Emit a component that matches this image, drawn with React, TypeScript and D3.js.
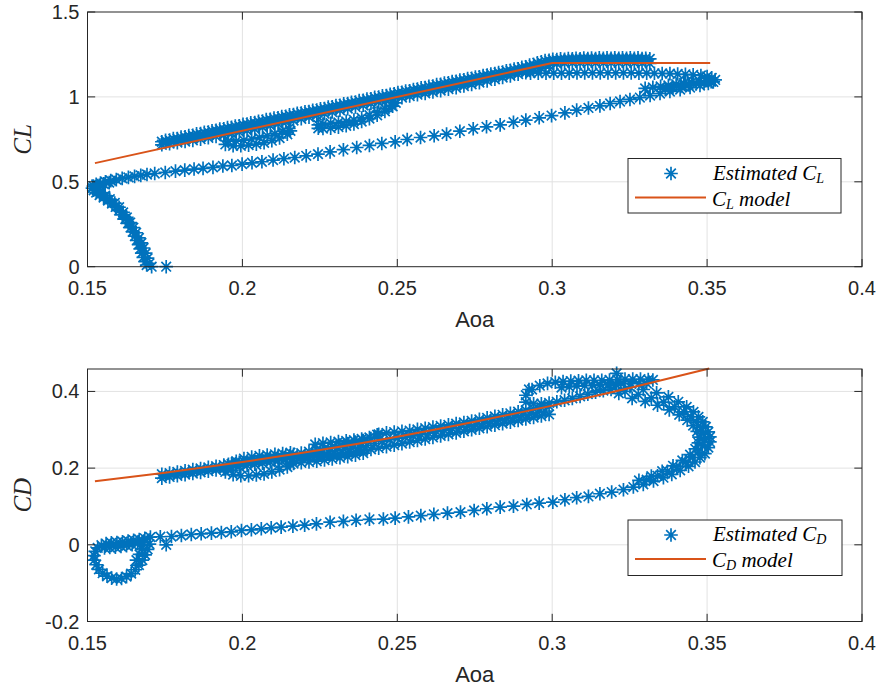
import React from "react";
import * as d3 from "d3";

type P = [number, number];

// ---------- axis ticks ----------
const AOA_TICKS = [0.15, 0.2, 0.25, 0.3, 0.35, 0.4];
const AOA_TICK_LABELS = ["0.15", "0.2", "0.25", "0.3", "0.35", "0.4"];
const CL_TICKS = [0, 0.5, 1, 1.5];
const CL_TICK_LABELS = ["0", "0.5", "1", "1.5"];
const CD_TICKS = [-0.2, 0, 0.2, 0.4];
const CD_TICK_LABELS = ["-0.2", "0", "0.2", "0.4"];

// ---------- CL data (aoa, CL) ----------
const clStart: P[] = [
  [0.1754, 0.0], [0.1707, 0.0], [0.1691, 0.01], [0.1686, 0.03], [0.168, 0.055], [0.1675, 0.08], [0.167, 0.105],
  [0.1665, 0.13], [0.1659, 0.155], [0.1653, 0.18], [0.1646, 0.205], [0.1639, 0.23], [0.1631, 0.255], [0.1622, 0.28],
  [0.1612, 0.305], [0.1602, 0.33], [0.1591, 0.352], [0.1579, 0.372], [0.1566, 0.39], [0.1552, 0.407], [0.1539, 0.422],
  [0.1528, 0.436], [0.152, 0.45], [0.1516, 0.463], [0.1519, 0.475], [0.1528, 0.485], [0.1542, 0.493], [0.1558, 0.5],
  [0.1575, 0.507], [0.1593, 0.513], [0.1612, 0.52], [0.1632, 0.526], [0.1652, 0.532], [0.1672, 0.538], [0.1692, 0.543],
];
const clStart2: P[] = [
  [0.17, 0.02], [0.1694, 0.05], [0.1688, 0.08], [0.1681, 0.11], [0.1674, 0.14], [0.1666, 0.17], [0.1657, 0.2],
  [0.1648, 0.23], [0.1638, 0.26], [0.1627, 0.29], [0.1615, 0.32], [0.1602, 0.35], [0.1588, 0.375], [0.1572, 0.398],
  [0.1557, 0.418], [0.1543, 0.436], [0.1533, 0.452], [0.153, 0.468], [0.1538, 0.48], [0.1552, 0.488], [0.157, 0.495],
];
const clTransient: P[] = [
  [0.1717, 0.549], [0.1751, 0.555], [0.1784, 0.563], [0.1814, 0.569], [0.1844, 0.575], [0.1873, 0.579], [0.1905, 0.585],
  [0.1937, 0.593], [0.1966, 0.596], [0.1999, 0.604], [0.2031, 0.612], [0.2063, 0.618], [0.2099, 0.628], [0.2134, 0.636],
  [0.2169, 0.643], [0.2206, 0.653], [0.2244, 0.663], [0.2283, 0.676], [0.2326, 0.689], [0.2369, 0.702], [0.241, 0.714],
  [0.245, 0.726], [0.2493, 0.735], [0.2532, 0.749], [0.2575, 0.761], [0.2619, 0.771], [0.2659, 0.781], [0.2702, 0.798],
  [0.2745, 0.812], [0.2788, 0.824], [0.2832, 0.835], [0.2875, 0.851], [0.2915, 0.863], [0.2958, 0.877], [0.2998, 0.89],
  [0.3041, 0.906], [0.3079, 0.922], [0.3117, 0.935], [0.3154, 0.947], [0.3187, 0.961], [0.3219, 0.973], [0.3251, 0.985],
  [0.3283, 0.996], [0.3316, 1.008], [0.3348, 1.02], [0.338, 1.032], [0.3413, 1.043], [0.3445, 1.055], [0.3477, 1.067],
  [0.3504, 1.079], [0.352, 1.088],
];
const clReturn: P[] = [
  [0.3526, 1.1], [0.3515, 1.112], [0.35, 1.12], [0.348, 1.126], [0.3455, 1.13], [0.343, 1.133], [0.3405, 1.135],
  [0.338, 1.137], [0.3355, 1.138], [0.333, 1.139], [0.3305, 1.14], [0.328, 1.14], [0.3255, 1.141], [0.323, 1.141],
  [0.3205, 1.141], [0.318, 1.141], [0.3155, 1.141], [0.313, 1.141], [0.3105, 1.141], [0.308, 1.141], [0.3055, 1.14],
  [0.303, 1.14], [0.3005, 1.14], [0.298, 1.14], [0.2955, 1.14], [0.293, 1.14],
];
const clCrescent: P[] = [
  [0.33, 1.05], [0.3325, 1.056], [0.335, 1.062], [0.3375, 1.068], [0.34, 1.075], [0.3425, 1.081], [0.345, 1.087],
  [0.3475, 1.092], [0.35, 1.095], [0.3365, 1.045], [0.339, 1.054], [0.3415, 1.062], [0.344, 1.07], [0.3465, 1.077],
  [0.349, 1.083], [0.3513, 1.09],
];
const clBlob1Lower: P[] = [
  [0.1945, 0.72], [0.197, 0.712], [0.1995, 0.712], [0.202, 0.716], [0.2045, 0.722], [0.207, 0.73], [0.2095, 0.742],
  [0.212, 0.758], [0.2145, 0.78], [0.2155, 0.8],
];
const clBlob1Upper: P[] = [
  [0.1955, 0.74], [0.198, 0.74], [0.2005, 0.745], [0.203, 0.752], [0.2055, 0.76], [0.208, 0.77], [0.2105, 0.782],
  [0.213, 0.797], [0.215, 0.815],
];
const clBlob2Lower: P[] = [
  [0.2245, 0.815], [0.226, 0.814], [0.2285, 0.816], [0.231, 0.822], [0.2335, 0.83], [0.236, 0.84], [0.2385, 0.855],
  [0.241, 0.872], [0.2435, 0.892], [0.246, 0.915], [0.2485, 0.945], [0.2495, 0.965],
];
const clBlob2Upper: P[] = [
  [0.2245, 0.835], [0.226, 0.84], [0.2285, 0.845], [0.231, 0.85], [0.2335, 0.856], [0.236, 0.864], [0.2385, 0.876],
  [0.241, 0.892], [0.2435, 0.91], [0.246, 0.93], [0.248, 0.95],
];
const bandAoa = [
  0.174, 0.1765, 0.179, 0.1815, 0.184, 0.1865, 0.189, 0.1915, 0.194, 0.1965,
  0.199, 0.2015, 0.204, 0.2065, 0.209, 0.2115, 0.214, 0.2165, 0.219, 0.2215,
  0.224, 0.2265, 0.229, 0.2315, 0.234, 0.2365, 0.239, 0.2415, 0.244, 0.2465,
  0.249, 0.2515, 0.254, 0.2565, 0.259, 0.2615, 0.264, 0.2665, 0.269, 0.2715,
  0.274, 0.2765, 0.279, 0.2815, 0.284, 0.2865, 0.289, 0.2915, 0.294, 0.2965,
  0.299, 0.3015, 0.304, 0.3065, 0.309, 0.3115, 0.314, 0.3165, 0.319, 0.3215,
  0.324, 0.3265, 0.329, 0.3315,
];
const bandAoaMid = [
  0.1752, 0.1777, 0.1802, 0.1827, 0.1852, 0.1877, 0.1902, 0.1927, 0.1952, 0.1977,
  0.2002, 0.2027, 0.2052, 0.2077, 0.2102, 0.2127, 0.2152, 0.2177, 0.2202, 0.2227,
  0.2252, 0.2277, 0.2302, 0.2327, 0.2352, 0.2377, 0.2402, 0.2427, 0.2452, 0.2477,
  0.2502, 0.2527, 0.2552, 0.2577, 0.2602, 0.2627, 0.2652, 0.2677, 0.2702, 0.2727,
  0.2752, 0.2777, 0.2802, 0.2827, 0.2852, 0.2877, 0.2902, 0.2927, 0.2952, 0.2977,
  0.3002, 0.3027, 0.3052, 0.3077, 0.3102, 0.3127, 0.3152, 0.3177, 0.3202, 0.3227,
  0.3252, 0.3277, 0.3302,
];
const clBandUpper = [
  0.736, 0.746, 0.755, 0.765, 0.774, 0.784, 0.793, 0.803, 0.812, 0.821,
  0.83, 0.84, 0.849, 0.858, 0.868, 0.877, 0.886, 0.896, 0.905, 0.914,
  0.923, 0.932, 0.942, 0.951, 0.961, 0.97, 0.98, 0.989, 0.999, 1.008,
  1.018, 1.027, 1.036, 1.046, 1.055, 1.064, 1.074, 1.083, 1.092, 1.101,
  1.11, 1.119, 1.128, 1.137, 1.146, 1.156, 1.166, 1.177, 1.19, 1.206,
  1.215, 1.22, 1.222, 1.224, 1.225, 1.226, 1.226, 1.227, 1.227, 1.228,
  1.228, 1.227, 1.226, 1.224,
];
const clBandTop2 = [
  0.744, 0.754, 0.763, 0.772, 0.782, 0.791, 0.801, 0.81, 0.819, 0.828,
  0.838, 0.847, 0.856, 0.866, 0.875, 0.884, 0.894, 0.903, 0.912, 0.921,
  0.93, 0.94, 0.949, 0.959, 0.968, 0.978, 0.987, 0.997, 1.006, 1.016,
  1.025, 1.035, 1.044, 1.053, 1.063, 1.072, 1.081, 1.09, 1.099, 1.108,
  1.117, 1.126, 1.135, 1.144, 1.154, 1.164, 1.175, 1.187, 1.201, 1.214,
  1.221, 1.224, 1.226, 1.228, 1.229, 1.229, 1.23, 1.23, 1.231, 1.231,
  1.231, 1.23, 1.228,
];
const clBandMid = [
  0.73, 0.737, 0.746, 0.755, 0.764, 0.773, 0.782, 0.791, 0.8, 0.809,
  0.818, 0.827, 0.836, 0.845, 0.855, 0.865, 0.875, 0.885, 0.895, 0.905,
  0.914, 0.924, 0.934, 0.943, 0.953, 0.962, 0.972, 0.981, 0.99, 0.998,
  1.006, 1.014, 1.023, 1.032, 1.041, 1.05, 1.058, 1.067, 1.076, 1.085,
  1.094, 1.104, 1.114, 1.124, 1.134, 1.143, 1.153, 1.164, 1.177, 1.193,
  1.206, 1.212, 1.213, 1.214, 1.214, 1.215, 1.215, 1.215, 1.216, 1.216,
  1.216, 1.215, 1.213,
];
const clBandLower = [
  0.718, 0.725, 0.731, 0.737, 0.744, 0.751, 0.759, 0.767, 0.775, 0.784,
  0.793, 0.802, 0.811, 0.821, 0.831, 0.841, 0.851, 0.861, 0.871, 0.881,
  0.891, 0.901, 0.911, 0.921, 0.931, 0.941, 0.951, 0.961, 0.971, 0.98,
  0.988, 0.996, 1.005, 1.013, 1.021, 1.029, 1.037, 1.046, 1.054, 1.064,
  1.074, 1.084, 1.094, 1.104, 1.114, 1.124, 1.134, 1.143, 1.155, 1.17,
  1.185, 1.195, 1.199, 1.2, 1.2, 1.2, 1.2, 1.2, 1.2, 1.2,
  1.2, 1.2, 1.199, 1.197,
];
const clModelAoa = [0.1524, 0.3, 0.351];
const clModelVal = [0.61, 1.2, 1.2];

// ---------- CD data (aoa, CD) ----------
const cdStart: P[] = [[0.1754, 0.0]];
const cdRing: P[] = [
  [0.17, 0.002], [0.1694, -0.012], [0.1686, -0.026], [0.1677, -0.04], [0.1666, -0.053], [0.1654, -0.065],
  [0.1641, -0.075], [0.1626, -0.083], [0.161, -0.088], [0.1594, -0.089], [0.1578, -0.087], [0.1563, -0.082],
  [0.1549, -0.074], [0.1537, -0.064], [0.1528, -0.052], [0.1522, -0.04], [0.1521, -0.028], [0.1525, -0.017],
  [0.1533, -0.008], [0.1545, -0.001], [0.156, 0.003], [0.1577, 0.005], [0.1595, 0.006], [0.1613, 0.008],
  [0.1631, 0.01], [0.1649, 0.012], [0.1667, 0.014], [0.1685, 0.017], [0.1703, 0.02],
];
const cdRingTop: P[] = [
  [0.1555, -0.008], [0.1572, -0.007], [0.159, -0.006], [0.1608, -0.004], [0.1626, -0.002], [0.1644, 0.0],
  [0.1662, 0.003], [0.168, 0.007], [0.1675, -0.01], [0.1668, -0.025], [0.1658, -0.04],
];
const cdTransient: P[] = [
  [0.1735, 0.021], [0.1771, 0.0217], [0.1803, 0.0243], [0.1835, 0.0269], [0.1867, 0.0287], [0.19, 0.0304],
  [0.1932, 0.0321], [0.1964, 0.0339], [0.1997, 0.0374], [0.2029, 0.0391], [0.2061, 0.0417], [0.2093, 0.0443],
  [0.2125, 0.0461], [0.2163, 0.0487], [0.2201, 0.0513], [0.2239, 0.0545], [0.2283, 0.059], [0.2326, 0.0612],
  [0.2367, 0.064], [0.241, 0.0665], [0.2455, 0.0672], [0.2493, 0.0695], [0.2536, 0.0728], [0.2576, 0.0762],
  [0.2618, 0.0795], [0.2662, 0.0827], [0.2704, 0.0853], [0.2748, 0.0896], [0.2789, 0.094], [0.2832, 0.0984],
  [0.2875, 0.101], [0.2918, 0.1053], [0.2958, 0.1088], [0.3002, 0.1114], [0.3041, 0.1175], [0.3079, 0.1228],
  [0.3117, 0.1262], [0.3154, 0.1332], [0.3192, 0.1376], [0.323, 0.1437], [0.3262, 0.1506], [0.3294, 0.1576],
  [0.3327, 0.1663], [0.3359, 0.175], [0.3386, 0.1838], [0.3413, 0.1942], [0.344, 0.2047], [0.3461, 0.216],
  [0.3477, 0.2273], [0.3493, 0.2378], [0.3504, 0.2535], [0.3509, 0.2683], [0.3509, 0.2814], [0.3504, 0.2944],
  [0.3496, 0.3075], [0.3486, 0.3206], [0.3472, 0.3336], [0.3456, 0.3467], [0.3434, 0.3598], [0.3407, 0.3729],
  [0.3375, 0.3859], [0.3337, 0.3964], [0.3294, 0.4051], [0.3251, 0.4121], [0.3208, 0.4164],
];
const cdArcInner: P[] = [
  [0.328, 0.168], [0.332, 0.179], [0.3355, 0.192], [0.339, 0.206], [0.342, 0.22], [0.3445, 0.235], [0.3462, 0.25],
  [0.3472, 0.266], [0.3474, 0.281], [0.3468, 0.296], [0.3455, 0.311], [0.3436, 0.325], [0.341, 0.339], [0.3378, 0.352],
  [0.334, 0.364], [0.33, 0.374], [0.3258, 0.382],
];
const cdArcMid: P[] = [
  [0.3305, 0.17], [0.334, 0.18], [0.3372, 0.192], [0.3402, 0.203], [0.343, 0.215], [0.3453, 0.228], [0.3472, 0.242],
  [0.3485, 0.258], [0.349, 0.274], [0.3488, 0.29], [0.348, 0.306], [0.3467, 0.32], [0.3448, 0.334], [0.3425, 0.347],
  [0.3395, 0.36], [0.336, 0.372], [0.332, 0.383], [0.3278, 0.392], [0.3235, 0.4],
];
const cdLensUpper: P[] = [
  [0.2935, 0.405], [0.296, 0.415], [0.2985, 0.421], [0.301, 0.424], [0.3035, 0.426], [0.306, 0.427], [0.3085, 0.428],
  [0.311, 0.429], [0.3135, 0.429], [0.316, 0.429], [0.3185, 0.43], [0.321, 0.431], [0.3235, 0.432], [0.326, 0.432],
  [0.3285, 0.432], [0.331, 0.431], [0.3325, 0.43],
];
const cdLensSecond: P[] = [
  [0.303, 0.41], [0.3055, 0.412], [0.308, 0.414], [0.3105, 0.415], [0.313, 0.416], [0.3155, 0.417], [0.318, 0.418],
  [0.3205, 0.419], [0.323, 0.42], [0.3255, 0.42], [0.328, 0.421], [0.3305, 0.421],
];
const cdLensLower: P[] = [
  [0.2925, 0.405], [0.2915, 0.39], [0.2915, 0.372], [0.294, 0.368], [0.2965, 0.368], [0.299, 0.37], [0.3015, 0.373],
  [0.304, 0.377], [0.3065, 0.382], [0.309, 0.387], [0.3115, 0.393], [0.314, 0.398], [0.3165, 0.402], [0.319, 0.405],
];
const cdSpikes: P[] = [[0.3208, 0.447], [0.3215, 0.395]];
const cdBlob1Lower: P[] = [
  [0.1945, 0.19], [0.197, 0.183], [0.1995, 0.18], [0.202, 0.18], [0.2045, 0.182], [0.207, 0.185], [0.2095, 0.19],
  [0.212, 0.196], [0.2145, 0.203], [0.2155, 0.21],
];
const cdBlob1Upper: P[] = [
  [0.1955, 0.21], [0.198, 0.218], [0.2005, 0.225], [0.203, 0.229], [0.2055, 0.232], [0.208, 0.234], [0.2105, 0.236],
  [0.213, 0.238], [0.2155, 0.24],
];
const cdBlob2Lower: P[] = [
  [0.2165, 0.212], [0.219, 0.214], [0.2215, 0.216], [0.224, 0.218], [0.2265, 0.221], [0.229, 0.224], [0.2315, 0.227],
  [0.234, 0.23], [0.2365, 0.234], [0.239, 0.239],
];
const cdBlob2Upper: P[] = [
  [0.2235, 0.262], [0.226, 0.265], [0.2285, 0.267], [0.231, 0.269], [0.2335, 0.271], [0.236, 0.273], [0.2385, 0.276],
  [0.241, 0.28], [0.2435, 0.287],
];
const cdBandUpper = [
  0.184, 0.187, 0.19, 0.193, 0.196, 0.199, 0.202, 0.205, 0.208, 0.211,
  0.215, 0.218, 0.221, 0.224, 0.227, 0.23, 0.233, 0.236, 0.239, 0.243,
  0.247, 0.252, 0.256, 0.26, 0.264, 0.268, 0.272, 0.277, 0.288, 0.292,
  0.294, 0.296, 0.298, 0.301, 0.304, 0.307, 0.31, 0.313, 0.316, 0.319,
  0.323, 0.327, 0.331, 0.335, 0.339, 0.343, 0.347, 0.351, 0.355, 0.359,
  0.362,
];
const cdBandMid = [
  0.18, 0.183, 0.186, 0.189, 0.192, 0.195, 0.198, 0.201, 0.204, 0.207,
  0.21, 0.213, 0.216, 0.219, 0.222, 0.225, 0.228, 0.23, 0.233, 0.236,
  0.239, 0.242, 0.246, 0.249, 0.252, 0.255, 0.259, 0.264, 0.27, 0.274,
  0.278, 0.281, 0.284, 0.287, 0.291, 0.295, 0.299, 0.303, 0.306, 0.309,
  0.313, 0.317, 0.321, 0.325, 0.329, 0.333, 0.337, 0.341, 0.345, 0.349,
];
const cdBandLower = [
  0.174, 0.177, 0.18, 0.183, 0.186, 0.189, 0.192, 0.195, 0.198, 0.201,
  0.204, 0.207, 0.21, 0.213, 0.216, 0.219, 0.222, 0.224, 0.226, 0.228,
  0.23, 0.232, 0.234, 0.237, 0.24, 0.243, 0.246, 0.249, 0.252, 0.256,
  0.26, 0.264, 0.268, 0.272, 0.276, 0.28, 0.284, 0.288, 0.292, 0.296,
  0.3, 0.304, 0.308, 0.312, 0.316, 0.32, 0.324, 0.328, 0.332, 0.336,
  0.34,
];
const cdModelAoa = [0.1524, 0.175, 0.2, 0.225, 0.25, 0.275, 0.3, 0.325, 0.3507];
const cdModelVal = [0.166, 0.188, 0.216, 0.247, 0.282, 0.321, 0.363, 0.409, 0.46];

// ---------- styling ----------
const BLUE = "#0072BD";
const RED = "#D95319";
const AX = "#262626";
const GRID = "#e2e2e2";
const SANS = "'Liberation Sans', Arial, Helvetica, sans-serif";
const SERIF = "'Liberation Serif', 'Times New Roman', serif";
const W = 877;
const H = 687;
const XL = 87.5;
const XR = 862;
const TICK = 7.7;
const MR = 6.8;
const MW = 1.7;

const zip = (xs: number[], ys: number[]): P[] => ys.map((v, i) => [xs[i], v]);

function starPath(pts: P[], x: (v: number) => number, y: (v: number) => number, r = MR): string {
  const d = r * 0.7071;
  return pts
    .map(([a, v]) => {
      const cx = x(a);
      const cy = y(v);
      return `M${cx - r},${cy}h${2 * r}M${cx},${cy - r}v${2 * r}M${cx - d},${cy - d}l${2 * d},${2 * d}M${cx - d},${cy + d}l${2 * d},${-2 * d}`;
    })
    .join("");
}

type PanelProps = {
  yTop: number;
  yBot: number;
  yDomain: [number, number];
  yTicks: number[];
  yTickLabels: string[];
  series: P[][];
  model: P[];
  curved: boolean;
  sub: string;
  legend: { x: number; y: number; w: number; h: number };
};

function Panel(props: PanelProps) {
  const { yTop, yBot, yDomain, yTicks, yTickLabels, series, model, curved, sub, legend } = props;
  const x = d3.scaleLinear().domain([0.15, 0.4]).range([XL, XR]);
  const y = d3.scaleLinear().domain(yDomain).range([yBot, yTop]);
  const stars = series.map((s) => starPath(s, x, y)).join("");
  const line = d3
    .line<P>()
    .x((d) => x(d[0]))
    .y((d) => y(d[1]))
    .curve(curved ? d3.curveMonotoneX : d3.curveLinear);
  const lx = legend.x;
  const ly = legend.y;
  const row1 = ly + 17;
  const row2 = ly + 42;
  return (
    <g>
      {AOA_TICKS.slice(1, -1).map((t) => (
        <line key={"gx" + t} x1={x(t)} x2={x(t)} y1={yTop} y2={yBot} stroke={GRID} strokeWidth={1} />
      ))}
      {yTicks.map((t, i) =>
        i === 0 || (i === yTicks.length - 1 && Math.abs(y(t) - yTop) < 2) ? null : (
          <line key={"gy" + t} x1={XL} x2={XR} y1={y(t)} y2={y(t)} stroke={GRID} strokeWidth={1} />
        )
      )}
      <path d={stars} fill="none" stroke={BLUE} strokeWidth={MW} />
      <path d={line(model) || ""} fill="none" stroke={RED} strokeWidth={2} />
      <rect x={XL} y={yTop} width={XR - XL} height={yBot - yTop} fill="none" stroke={AX} strokeWidth={1} />
      {AOA_TICKS.map((t, i) => (
        <g key={"tx" + t}>
          <line x1={x(t)} x2={x(t)} y1={yBot} y2={yBot - TICK} stroke={AX} />
          <line x1={x(t)} x2={x(t)} y1={yTop} y2={yTop + TICK} stroke={AX} />
          <text x={x(t)} y={yBot + 28} textAnchor="middle" fontFamily={SANS} fontSize={20} fill={AX}>
            {AOA_TICK_LABELS[i]}
          </text>
        </g>
      ))}
      {yTicks.map((t, i) => (
        <g key={"ty" + t}>
          <line x1={XL} x2={XL + TICK} y1={y(t)} y2={y(t)} stroke={AX} />
          <line x1={XR} x2={XR - TICK} y1={y(t)} y2={y(t)} stroke={AX} />
          <text x={XL - 8} y={y(t) + 7} textAnchor="end" fontFamily={SANS} fontSize={20} fill={AX}>
            {yTickLabels[i]}
          </text>
        </g>
      ))}
      <text x={(XL + XR) / 2} y={yBot + 60} textAnchor="middle" fontFamily={SANS} fontSize={22} fill={AX}>
        Aoa
      </text>
      <text
        transform={`translate(31,${(yTop + yBot) / 2}) rotate(-90)`}
        textAnchor="middle"
        fontFamily={SERIF}
        fontStyle="italic"
        fontSize={25}
        fill={AX}
      >
        {"C" + sub}
      </text>
      <rect x={lx} y={ly} width={legend.w} height={legend.h} fill="#fff" stroke={AX} strokeWidth={1} />
      <path d={starPath([[x.invert(lx + 43), y.invert(row1 - 2)]], x, y)} fill="none" stroke={BLUE} strokeWidth={MW} />
      <line x1={lx + 7} x2={lx + 78} y1={row2 - 3} y2={row2 - 3} stroke={RED} strokeWidth={2} />
      <text x={lx + 85} y={row1 + 4} fontFamily={SERIF} fontStyle="italic" fontSize={21} fill="#000">
        Estimated C
        <tspan fontSize={14} dy={3}>
          {sub}
        </tspan>
      </text>
      <text x={lx + 84} y={row2 + 5} fontFamily={SERIF} fontStyle="italic" fontSize={21} fill="#000">
        C
        <tspan fontSize={14} dy={3}>
          {sub}
        </tspan>
        <tspan dy={-3}>{" model"}</tspan>
      </text>
    </g>
  );
}

export default function App() {
  const clSeries: P[][] = [
    clStart,
    clStart2,
    clTransient,
    clReturn,
    clCrescent,
    clBlob1Lower,
    clBlob1Upper,
    clBlob2Lower,
    clBlob2Upper,
    zip(bandAoa, clBandUpper),
    zip(bandAoaMid, clBandTop2),
    zip(bandAoaMid, clBandMid),
    zip(bandAoa, clBandLower),
  ];
  const cdSeries: P[][] = [
    cdStart,
    cdRing,
    cdRingTop,
    cdTransient,
    cdArcInner,
    cdArcMid,
    cdLensUpper,
    cdLensSecond,
    cdLensLower,
    cdSpikes,
    cdBlob1Lower,
    cdBlob1Upper,
    cdBlob2Lower,
    cdBlob2Upper,
    zip(bandAoa.slice(0, cdBandUpper.length), cdBandUpper),
    zip(bandAoaMid.slice(0, cdBandMid.length), cdBandMid),
    zip(bandAoa.slice(0, cdBandLower.length), cdBandLower),
  ];
  return (
    <div style={{ position: "absolute", left: 0, top: 0, width: W, height: H, background: "#fff" }}>
      <svg width={W} height={H} viewBox={`0 0 ${W} ${H}`} style={{ display: "block" }}>
        <rect x={0} y={0} width={W} height={H} fill="#fff" />
        <Panel
          yTop={12}
          yBot={266.7}
          yDomain={[0, 1.5]}
          yTicks={CL_TICKS}
          yTickLabels={CL_TICK_LABELS}
          series={clSeries}
          model={zip(clModelAoa, clModelVal)}
          curved={false}
          sub="L"
          legend={{ x: 628, y: 158.5, w: 213, h: 54.5 }}
        />
        <Panel
          yTop={369}
          yBot={621.5}
          yDomain={[-0.2, 0.4585]}
          yTicks={CD_TICKS}
          yTickLabels={CD_TICK_LABELS}
          series={cdSeries}
          model={zip(cdModelAoa, cdModelVal)}
          curved={true}
          sub="D"
          legend={{ x: 628, y: 520, w: 214, h: 55.5 }}
        />
      </svg>
    </div>
  );
}
